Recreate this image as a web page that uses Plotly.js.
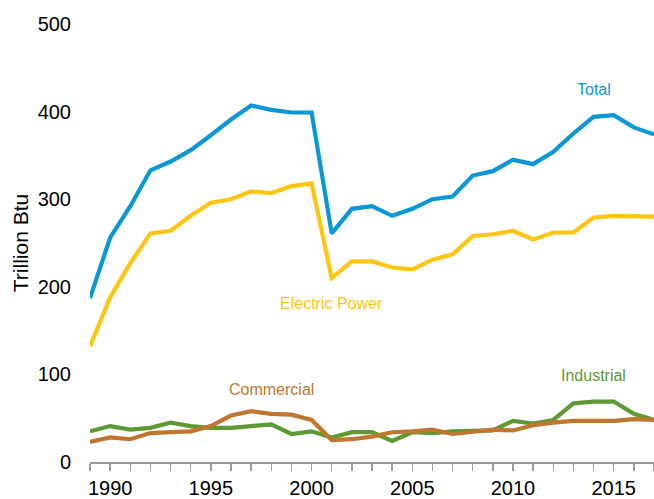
<!DOCTYPE html>
<html>
<head>
<meta charset="utf-8">
<script src="https://cdn.plot.ly/plotly-3.0.1.min.js"></script>
<style>html,body{margin:0;padding:0;background:#fff;}#chart{width:654px;height:499px;}</style>
</head>
<body>
<div id="chart"></div>
<script>
const years = [1989,1990,1991,1992,1993,1994,1995,1996,1997,1998,1999,2000,2001,2002,2003,2004,2005,2006,2007,2008,2009,2010,2011,2012,2013,2014,2015,2016,2017];
const total = [187,256,292,333,343,356,373,391,407,402,399,399,261,289,292,281,289,300,303,327,332,345,340,354,375,394,396,382,374];
const electricPower = [132,188,227,261,264,281,296,300,309,307,315,318,210,229,229,222,220,231,237,258,260,264,254,262,262,279,281,280,280];
const industrial = [35,41,37,39,45,41,39,39,41,43,32,35,28,34,34,24,34,33,35,35,36,47,44,48,67,69,69,55,48];
const commercial = [23,28,26,33,34,35,41,53,58,55,54,48,25,26,29,34,35,37,32,35,37,36,42,45,47,47,47,49,48];

const seriesNames = ['Total','Electric Power','Industrial','Commercial'];
const seriesColors = ['#0a97d6','#ffc510','#5e9a34','#c0762f'];
const seriesValues = [total, electricPower, industrial, commercial];

const traces = seriesValues.map((vals, i) => ({
  x: years, y: vals, type: 'scatter', mode: 'lines', name: seriesNames[i],
  line: {color: seriesColors[i], width: 4.2}
}));

const labelFont = 'Arial, "Liberation Sans", sans-serif';
const layout = {
  width: 654, height: 499,
  margin: {l: 90, r: 0, t: 24, b: 37},
  paper_bgcolor: '#fff', plot_bgcolor: '#fff',
  showlegend: false,
  font: {family: labelFont, color: '#000'},
  xaxis: {
    range: [1989, 2017], showgrid: false, zeroline: false,
    showline: true, linecolor: '#9a9a9a', linewidth: 2,
    ticks: 'outside', tick0: 1990, dtick: 5, ticklen: 7, tickcolor: '#9a9a9a', tickwidth: 1.5,
    minor: {ticks: 'outside', dtick: 1, tick0: 1989, ticklen: 7, tickcolor: '#9a9a9a', tickwidth: 1.5},
    tickfont: {size: 20, family: labelFont, color: '#000'}
  },
  yaxis: {
    range: [0, 500], showgrid: false, zeroline: false, showline: false,
    tick0: 0, dtick: 100, ticks: '', ticklabelstandoff: 18,
    tickfont: {size: 20, family: labelFont, color: '#000'},
    title: {text: 'Trillion Btu', font: {size: 21, family: labelFont, color: '#000'}, standoff: 3}
  },
  annotations: [
    {x: 2014.0, y: 425, xref: 'x', yref: 'y', text: 'Total', showarrow: false, font: {size: 16, color: seriesColors[0], family: labelFont}},
    {x: 2001.0, y: 181, xref: 'x', yref: 'y', text: 'Electric Power', showarrow: false, font: {size: 16, color: seriesColors[1], family: labelFont}},
    {x: 1998.0, y: 83, xref: 'x', yref: 'y', text: 'Commercial', showarrow: false, font: {size: 16, color: seriesColors[3], family: labelFont}},
    {x: 2014.0, y: 99, xref: 'x', yref: 'y', text: 'Industrial', showarrow: false, font: {size: 16, color: seriesColors[2], family: labelFont}}
  ]
};
Plotly.newPlot('chart', traces, layout, {displayModeBar: false, staticPlot: true});
</script>
</body>
</html>
